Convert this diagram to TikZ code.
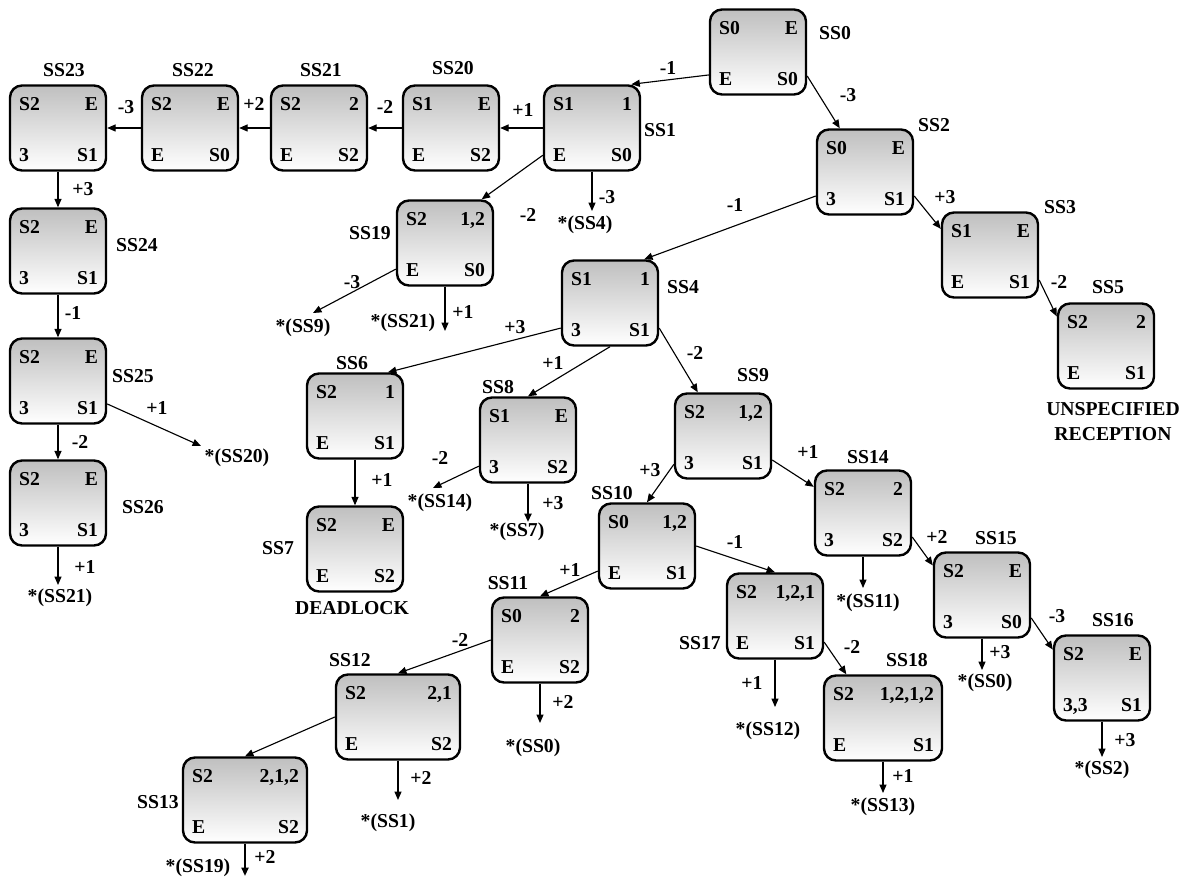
\documentclass[tikz,border=0pt]{standalone}
\usepackage{fontspec}
\setmainfont{Liberation Serif}
\usetikzlibrary{arrows.meta,calc,positioning}
\tikzset{
  stbox/.style={draw,rounded corners=0.3cm,line width=1.7pt,minimum width=2.4cm,minimum height=2.125cm,inner sep=0pt,top color=gray!50,bottom color=white},
  cell/.style={inner sep=0pt},
  tag/.style={inner sep=1pt},
  tran/.style={->,line width=0.8pt},
  tranbold/.style={->,line width=1.4pt}
}
% state box: [width]{name}{position}{top left}{top right}{bottom left}{bottom right}
\newcommand{\ssbox}[7][2.4cm]{%
  \node[stbox,minimum width=#1] (#2) at (#3) {};
  \node[cell,anchor=base west] (#2a) at ($(#2.north west)+(10,26.5)$) {#4};
  \node[cell,anchor=base east] (#2b) at ($(#2.north east)+(-9,26.5)$) {#5};
  \node[cell,anchor=base west] (#2c) at ($(#2.south west)+(10,-10.5)$) {#6};
  \node[cell,anchor=base east] (#2d) at ($(#2.south east)+(-9,-10.5)$) {#7};
}

\begin{document}
\begin{tikzpicture}[x=0.025cm,y=-0.025cm,>={Triangle[length=6pt,width=5pt]},font=\bfseries\fontsize{14}{16}\selectfont]
  \useasboundingbox (0,0) rectangle (1184,878);
  % states
  \ssbox{ss0}{758,52}{S0}{E}{E}{S0}
  \ssbox{ss1}{592,128}{S1}{1}{E}{S0}
  \ssbox{ss20}{451,128}{S1}{E}{E}{S2}
  \ssbox{ss21}{319,128}{S2}{2}{E}{S2}
  \ssbox{ss22}{190,128}{S2}{E}{E}{S0}
  \ssbox{ss23}{58,128}{S2}{E}{3}{S1}
  \ssbox{ss24}{58,251}{S2}{E}{3}{S1}
  \ssbox{ss25}{58,381}{S2}{E}{3}{S1}
  \ssbox{ss26}{58,503}{S2}{E}{3}{S1}
  \ssbox{ss19}{445,243}{S2}{1,2}{E}{S0}
  \ssbox{ss2}{865,172}{S0}{E}{3}{S1}
  \ssbox{ss3}{990,255}{S1}{E}{E}{S1}
  \ssbox{ss5}{1106,346}{S2}{2}{E}{S1}
  \ssbox{ss4}{610,303}{S1}{1}{3}{S1}
  \ssbox{ss6}{355,416}{S2}{1}{E}{S1}
  \ssbox{ss7}{355,549}{S2}{E}{E}{S2}
  \ssbox{ss8}{528,440}{S1}{E}{3}{S2}
  \ssbox{ss9}{723,436}{S2}{1,2}{3}{S1}
  \ssbox{ss10}{647,546}{S0}{1,2}{E}{S1}
  \ssbox{ss14}{863,513}{S2}{2}{3}{S2}
  \ssbox{ss15}{982,595}{S2}{E}{3}{S0}
  \ssbox{ss16}{1102,678}{S2}{E}{3,3}{S1}
  \ssbox{ss17}{775,616}{S2}{1,2,1}{E}{S1}
  \ssbox[2.95cm]{ss18}{883,718}{S2}{1,2,1,2}{E}{S1}
  \ssbox{ss11}{540,640}{S0}{2}{E}{S2}
  \ssbox[3.1cm]{ss12}{398,717}{S2}{2,1}{E}{S2}
  \ssbox[3.1cm]{ss13}{245,800}{S2}{2,1,2}{E}{S2}

  % state names
  \foreach \t/\x/\y [count=\i] in {SS0/835/33,SS1/660/130,SS2/934/125,SS3/1060/207,
      SS4/683/287,SS5/1108/287,SS6/352/363,SS7/278/548,SS8/498/387,SS9/753/375,
      SS10/612/493,SS11/508/583,SS12/350/660,SS13/158/802,SS14/868/457,SS15/996/538,
      SS16/1113/620,SS17/700/643,SS18/907/660,SS19/370/233,SS20/453/68,SS21/321/70,
      SS22/193/70,SS23/64/70,SS24/137/245,SS25/133/376,SS26/143/507}
    \node[tag] (name\i) at (\x,\y) {\t};
  \node[tag] (dead) at (352,608) {DEADLOCK};
  \node[tag,align=center,font=\bfseries\fontsize{14}{17.7}\selectfont] (unsp) at (1113,422) {UNSPECIFIED\\RECEPTION};

  % references back to earlier states
  \foreach \t/\x/\y [count=\i] in {*(SS4)/585/225,*(SS9)/303/328,*(SS21)/403/323,
      *(SS20)/237/458,*(SS21)/60/598,*(SS14)/440/503,*(SS7)/517/532,*(SS11)/868/603,
      *(SS0)/985/683,*(SS2)/1102/770,*(SS12)/768/731,*(SS13)/883/807,*(SS0)/533/748,
      *(SS1)/388/823,*(SS19)/198/868}
    \node[tag] (back\i) at (\x,\y) {\t};

  % free arrow ends
  \coordinate (d4) at (592,211);
  \coordinate (d9) at (313,313);
  \coordinate (d21b) at (445,331);
  \coordinate (d20) at (201,446);
  \coordinate (d21a) at (58,585);
  \coordinate (d14) at (433,488);
  \coordinate (d7) at (528,522);
  \coordinate (d11) at (863,588);
  \coordinate (d0a) at (982,670);
  \coordinate (d2) at (1102,757);
  \coordinate (d12) at (775,707);
  \coordinate (d13) at (883,793);
  \coordinate (d0b) at (540,723);
  \coordinate (d1) at (398,800);
  \coordinate (d19) at (245,876);

  % transitions
  \draw[tran] (ss0.205) -- (ss1.48);
  \draw[tran] (ss0.-26) -- (ss2.120);
  \draw[tran] (ss1.west) -- (ss20.east);
  \draw[tran] (ss20.west) -- (ss21.east);
  \draw[tran] (ss21.west) -- (ss22.east);
  \draw[tran] (ss22.west) -- (ss23.east);
  \draw[tran] (ss23.south) -- (ss24.north);
  \draw[tran] (ss24.south) -- (ss25.north);
  \draw[tran] (ss25.south) -- (ss26.north);
  \draw[tran] (ss25.-25) -- (d20);
  \draw[tran] (ss26.south) -- (d21a);
  \draw[tran] (ss1.209) -- (ss19.50);
  \draw[tran] (ss1.south) -- (d4);
  \draw[tran] (ss19.208) -- (d9);
  \draw[tran] (ss19.south) -- (d21b);
  \draw[tran] (ss2.206) -- (ss4.52);
  \draw[tran] (ss2.-26) -- (ss3.152);
  \draw[tran] (ss3.-27) -- (ss5.149);
  \draw[tran] (ss4.207) -- (ss6.53);
  \draw[tran] (ss4.south) -- (ss8.north);
  \draw[tran] (ss4.-27) -- (ss9.120);
  \draw[tran] (ss6.south) -- (ss7.north);
  \draw[tran] (ss8.208) -- (d14);
  \draw[tranbold] (ss8.south) -- (d7);
  \draw[tran] (ss9.210) -- (ss10.north);
  \draw[tran] (ss9.-26) -- (ss14.152);
  \draw[tran] (ss14.south) -- (d11);
  \draw[tran] (ss14.-26) -- (ss15.149);
  \draw[tran] (ss15.south) -- (d0a);
  \draw[tran] (ss15.-25) -- (ss16.150);
  \draw[tran] (ss16.south) -- (d2);
  \draw[tran] (ss10.east) -- (ss17.north);
  \draw[tran] (ss10.207) -- (ss11.north);
  \draw[tran] (ss17.south) -- (d12);
  \draw[tran] (ss17.-28) -- (ss18.130);
  \draw[tran] (ss18.south) -- (d13);
  \draw[tran] (ss11.west) -- (ss12.north);
  \draw[tran] (ss11.south) -- (d0b);
  \draw[tran] (ss12.west) -- (ss13.north);
  \draw[tran] (ss12.south) -- (d1);
  \draw[tranbold] (ss13.south) -- (d19);

  % transition labels
  \foreach \t/\x/\y [count=\i] in {-1/668/68,-3/848/95,+1/523/110,-2/385/107,+2/254/104,
      -3/126/107,+3/83/189,-1/73/313,-2/80/442,+1/157/408,+1/85/567,-2/528/215,
      -3/607/197,-1/735/205,+3/945/197,-2/1059/282,-3/352/282,+1/463/312,+3/515/327,
      +1/553/363,-2/695/353,+1/382/480,-2/440/458,+3/553/503,+3/650/470,+1/808/452,
      +2/937/537,+3/1000/652,-3/1057/616,+3/1125/740,-1/735/542,+1/570/570,
      +1/752/683,-2/852/647,+1/903/776,-2/460/640,+2/563/702,+2/421/778,+2/265/857}
    \node[tag] (move\i) at (\x,\y) {\t};
\end{tikzpicture}
\end{document}
